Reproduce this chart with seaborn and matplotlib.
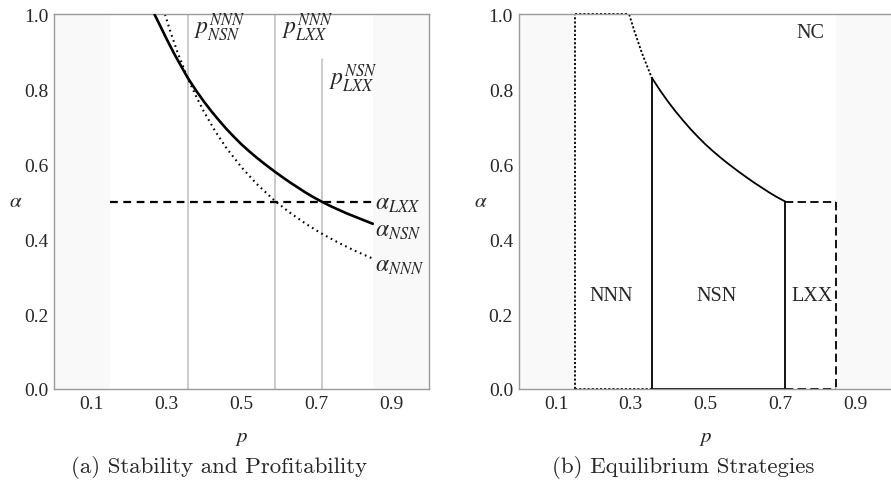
import matplotlib
matplotlib.use("Agg")
import matplotlib.pyplot as plt
import pandas as pd
import seaborn as sns

# curves
p_nsn = [0.268, 0.28, 0.30, 0.32, 0.34, 0.357, 0.38, 0.40, 0.42, 0.44, 0.46,
         0.48, 0.50, 0.52, 0.54, 0.56, 0.589, 0.61, 0.63, 0.65, 0.67, 0.69,
         0.714, 0.74, 0.76, 0.78, 0.80, 0.82, 0.85]
alpha_nsn = [1.000, 0.976, 0.935, 0.896, 0.860, 0.830, 0.795, 0.767, 0.741, 0.717,
             0.694, 0.673, 0.653, 0.635, 0.618, 0.602, 0.580, 0.565, 0.551, 0.538,
             0.525, 0.513, 0.500, 0.487, 0.478, 0.469, 0.461, 0.453, 0.441]

p_nnn = [0.296, 0.31, 0.33, 0.357, 0.38, 0.40, 0.43, 0.46, 0.50, 0.54, 0.589,
         0.63, 0.67, 0.71, 0.75, 0.80, 0.85]
alpha_nnn = [1.000, 0.955, 0.897, 0.829, 0.779, 0.740, 0.688, 0.643, 0.592, 0.548,
             0.502, 0.470, 0.442, 0.417, 0.395, 0.370, 0.348]

alpha_lxx = 0.5
p_lo, p_hi = 0.15, 0.85           # outer bounds (shaded outside)
p_nnn_nsn, p_nnn_lxx, p_nsn_lxx = 0.357, 0.589, 0.714
vline_p = [p_nnn_nsn, p_nnn_lxx, p_nsn_lxx]
vline_top = [1.0, 1.0, 0.88]

x_ticks = [0.1, 0.3, 0.5, 0.7, 0.9]
y_ticks = [0.0, 0.2, 0.4, 0.6, 0.8, 1.0]

sns.set_style("white")
plt.rcParams["font.family"] = ["Liberation Serif", "DejaVu Serif"]
plt.rcParams["mathtext.fontset"] = "stix"

nsn = pd.DataFrame({"p": p_nsn, "alpha": alpha_nsn})
nnn = pd.DataFrame({"p": p_nnn, "alpha": alpha_nnn})

fig = plt.figure(figsize=(8.91, 4.89), dpi=100)
ax1 = fig.add_axes([0.0606, 0.2025, 0.4209, 0.766])
ax2 = fig.add_axes([0.582, 0.2025, 0.4195, 0.766])

shade = "#f9f9f9"
frame = "#9a9a9a"


def style_axes(ax):
    ax.set_xlim(0, 1)
    ax.set_ylim(0, 1)
    ax.axvspan(0, p_lo, color=shade, lw=0, zorder=0)
    ax.axvspan(p_hi, 1, color=shade, lw=0, zorder=0)
    ax.set_xticks(x_ticks)
    ax.set_yticks(y_ticks)
    ax.set_xticklabels([f"{t:.1f}" for t in x_ticks])
    ax.set_yticklabels([f"{t:.1f}" for t in y_ticks])
    ax.tick_params(direction="in", length=3.5, width=0.8, color=frame,
                   labelsize=14, pad=4)
    for s in ax.spines.values():
        s.set_color(frame)
        s.set_linewidth(1.0)


def axis_labels(ax):
    ax.set_xlabel(r"$p$", fontsize=15, labelpad=12)
    ax.set_ylabel(r"$\alpha$", fontsize=15, rotation=0, labelpad=6, va="center")


# ---- (a) Stability and Profitability
style_axes(ax1)
for vp, vt in zip(vline_p, vline_top):
    ax1.plot([vp, vp], [0, vt], color="#bdbdbd", lw=1.1, zorder=1)
ax1.plot([p_lo, p_hi], [alpha_lxx, alpha_lxx], color="black", lw=1.6,
         ls=(0, (3.5, 2.5)), zorder=2)
sns.lineplot(data=nnn, x="p", y="alpha", ax=ax1, color="black", lw=1.5,
             ls=(0, (0.8, 1.8)), estimator=None, sort=False, zorder=2)
sns.lineplot(data=nsn, x="p", y="alpha", ax=ax1, color="black", lw=1.9,
             estimator=None, sort=False, zorder=3)
axis_labels(ax1)

ax1.text(0.374, 0.967, r"$p^{NNN}_{NSN}$", fontsize=17, va="center")
ax1.text(0.609, 0.967, r"$p^{NNN}_{LXX}$", fontsize=17, va="center")
ax1.text(0.734, 0.83, r"$p^{NSN}_{LXX}$", fontsize=17, va="center")
ax1.text(0.857, 0.495, r"$\alpha_{LXX}$", fontsize=17, va="center")
ax1.text(0.857, 0.423, r"$\alpha_{NSN}$", fontsize=17, va="center")
ax1.text(0.857, 0.33, r"$\alpha_{NNN}$", fontsize=17, va="center")

# ---- (b) Equilibrium Strategies
style_axes(ax2)
dot = (0, (1.2, 1.1))
dash = (0, (4.6, 2.4))
lw_b = 1.3
# NNN region (dotted)
ax2.plot([p_lo, p_lo], [0, 1], color="black", lw=lw_b, ls=dot, clip_on=False)
ax2.plot([p_lo, p_nnn[0]], [1, 1], color="black", lw=lw_b, ls=dot, clip_on=False)
ax2.plot([p_lo, p_nnn_nsn], [0, 0], color="black", lw=lw_b, ls=dot, clip_on=False)
top_nnn = nnn[nnn["p"] <= p_nnn_nsn]
sns.lineplot(data=top_nnn, x="p", y="alpha", ax=ax2, color="black", lw=lw_b,
             ls=dot, estimator=None, sort=False)
# NSN region (solid)
mid_nsn = nsn[(nsn["p"] >= p_nnn_nsn) & (nsn["p"] <= p_nsn_lxx)]
sns.lineplot(data=mid_nsn, x="p", y="alpha", ax=ax2, color="black", lw=lw_b,
             estimator=None, sort=False)
ax2.plot([p_nnn_nsn, p_nnn_nsn], [0, mid_nsn["alpha"].iloc[0]], color="black", lw=lw_b)
ax2.plot([p_nsn_lxx, p_nsn_lxx], [0, alpha_lxx], color="black", lw=lw_b)
ax2.plot([p_nnn_nsn, p_nsn_lxx], [0, 0], color="black", lw=lw_b, clip_on=False)
# LXX region (dashed)
ax2.plot([p_nsn_lxx, p_hi], [alpha_lxx, alpha_lxx], color="black", lw=lw_b, ls=dash)
ax2.plot([p_hi, p_hi], [alpha_lxx, 0], color="black", lw=lw_b, ls=dash)
ax2.plot([p_nsn_lxx, p_hi], [0, 0], color="black", lw=lw_b, ls=dash, clip_on=False)
axis_labels(ax2)

for txt, x, y in [("NNN", 0.248, 0.25), ("NSN", 0.53, 0.25),
                  ("LXX", 0.786, 0.25), ("NC", 0.78, 0.953)]:
    ax2.text(x, y, txt, fontsize=14.5, ha="center", va="center")

fig.text(0.246, 0.043, "(a) Stability and Profitability", family="cmr10",
         fontsize=16.5, ha="center", va="center")
fig.text(0.767, 0.043, "(b) Equilibrium Strategies", family="cmr10",
         fontsize=16.5, ha="center", va="center")

fig.savefig("out.png", dpi=100)
